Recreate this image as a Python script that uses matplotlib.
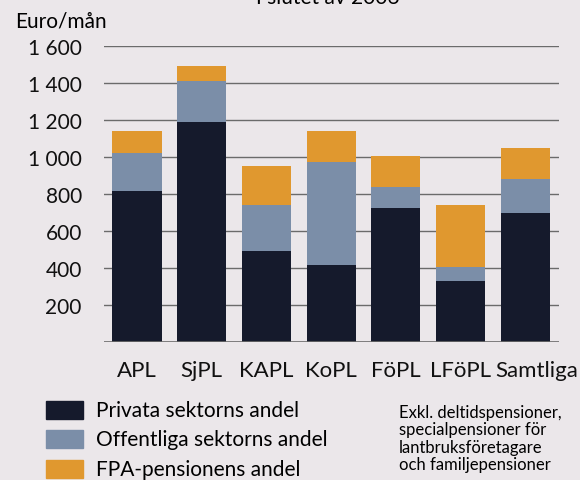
import matplotlib
matplotlib.use("Agg")
import matplotlib.pyplot as plt
from matplotlib.transforms import ScaledTranslation

plt.rcParams['font.family'] = ['Lato', 'DejaVu Sans']

# data (Euro/mån)
categories = ["APL", "SjPL", "KAPL", "KoPL", "FöPL", "LFöPL", "Samtliga"]
privat = [820, 1190, 492, 416, 724, 330, 699]
offentlig = [201, 224, 248, 557, 115, 75, 185]
fpa = [123, 81, 211, 171, 170, 337, 166]
series_names = ["Privata sektorns andel", "Offentliga sektorns andel",
                "FPA-pensionens andel"]
yticks = [200, 400, 600, 800, 1000, 1200, 1400, 1600]
ytick_labels = ["200", "400", "600", "800", "1 000", "1 200", "1 400", "1 600"]

bg = "#ebe7ea"
colors = ["#151a2c", "#7b8ea8", "#e0982f"]
grid_col = "#6b6b6b"

fig = plt.figure(figsize=(5.8, 4.81), dpi=100, facecolor=bg)
ax = fig.add_axes([104/580, 1 - 343.3/481, 455/580, 296/481])
ax.set_facecolor(bg)

x = list(range(len(categories)))
bottom2 = [p + o for p, o in zip(privat, offentlig)]
ax.bar(x, privat, width=0.76, color=colors[0], zorder=3)
ax.bar(x, offentlig, width=0.76, bottom=privat, color=colors[1], zorder=3)
ax.bar(x, fpa, width=0.76, bottom=bottom2, color=colors[2], zorder=3)

ax.set_xlim(-0.51, 6.52)
ax.set_ylim(0, 1600)
for t in yticks:
    ax.axhline(t, color=grid_col, lw=1.0, zorder=1)
ax.axhline(0, color=grid_col, lw=1.2, zorder=4)
for s in ax.spines.values():
    s.set_visible(False)

ax.set_yticks(yticks)
ax.set_yticklabels(ytick_labels, fontsize=15)
ax.set_xticks(x)
ax.set_xticklabels(categories, fontsize=16)
ax.tick_params(axis='both', length=0, colors="#111111")
ax.tick_params(axis='y', pad=16)
ax.tick_params(axis='x', pad=13)
# last label sits a bit to the right in the original
lab = ax.get_xticklabels()[-1]
lab.set_transform(lab.get_transform() + ScaledTranslation(0.11, 0, fig.dpi_scale_trans))

fig.text(15/580, 1 - 22/481, "Euro/mån", fontsize=15, va='center', ha='left')
fig.text(328/580, 1 - 4/481, "I slutet av 2006", fontsize=15,
         ha='center', va='baseline')

# legend
rows_y = [410.8, 440.2, 469.9]
for name, c, yy in zip(series_names, colors, rows_y):
    fig.patches.append(plt.Rectangle((46/580, 1 - (yy + 9.2)/481), 37/580, 18.5/481,
                                     transform=fig.transFigure, color=c))
    fig.text(96/580, 1 - yy/481, name, fontsize=15, va='center', ha='left')

fig.text(399/580, 1 - 405/481,
         "Exkl. deltidspensioner,\nspecialpensioner för\nlantbruksföretagare\noch familjepensioner",
         fontsize=12, va='top', ha='left', linespacing=1.1)

fig.savefig("out.png", dpi=100, facecolor=bg)
